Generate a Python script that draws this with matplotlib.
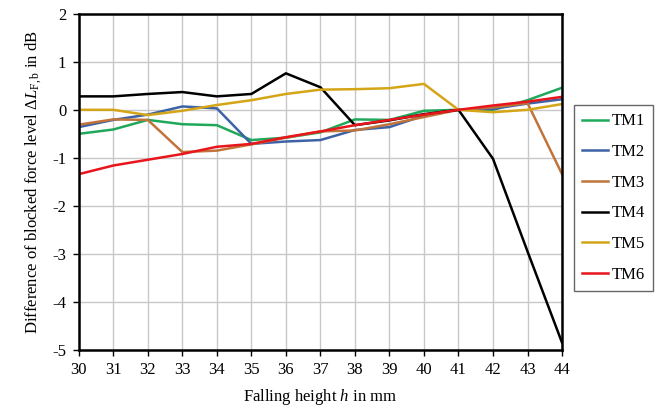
import numpy as np
import matplotlib
matplotlib.use("Agg")
import matplotlib.pyplot as plt

plt.rcParams['font.family'] = ['Liberation Serif', 'DejaVu Serif']
plt.rcParams['mathtext.fontset'] = 'custom'
plt.rcParams['mathtext.rm'] = 'Liberation Serif'
plt.rcParams['mathtext.it'] = 'Liberation Serif:italic'
plt.rcParams['axes.unicode_minus'] = False

# falling heights in mm
heights = np.arange(30, 45)

tm1 = [-0.50, -0.41, -0.21, -0.30, -0.32, -0.63, -0.58, -0.47, -0.20, -0.21, -0.02, 0.00, 0.00, 0.20, 0.46]
tm2 = [-0.36, -0.21, -0.10, 0.07, 0.03, -0.71, -0.66, -0.63, -0.42, -0.36, -0.12, 0.00, 0.02, 0.13, 0.22]
tm3 = [-0.31, -0.20, -0.21, -0.88, -0.85, -0.72, -0.58, -0.45, -0.43, -0.30, -0.15, 0.00, 0.05, 0.14, -1.34]
tm4 = [0.28, 0.28, 0.33, 0.37, 0.28, 0.33, 0.76, 0.47, -0.32, -0.22, -0.09, 0.00, -1.02, -2.95, -4.85]
tm5 = [0.00, 0.00, -0.11, -0.02, 0.10, 0.20, 0.33, 0.42, 0.43, 0.45, 0.54, 0.00, -0.05, 0.00, 0.12]
tm6 = [-1.34, -1.16, -1.04, -0.92, -0.77, -0.71, -0.57, -0.45, -0.32, -0.21, -0.10, 0.00, 0.09, 0.17, 0.27]

series = [("TM1", tm1, "#1fa85a"), ("TM2", tm2, "#3d63a6"),
          ("TM3", tm3, "#c0743a"), ("TM4", tm4, "#000000"),
          ("TM5", tm5, "#d4a517"), ("TM6", tm6, "#e8161c")]

fig = plt.figure(figsize=(6.62, 4.18), dpi=100)
ax = fig.add_axes([0.119, 0.163, 0.73, 0.804])

for name, vals, col in series:
    ax.plot(heights, vals, color=col, lw=1.8, label=name)

ax.set_xlim(30, 44)
ax.set_ylim(-5, 2)
ax.set_xticks(heights)
ax.set_yticks(range(-5, 3))
ax.grid(True, color="#c8c8c8", lw=1.0)
ax.set_axisbelow(True)
for s in ax.spines.values():
    s.set_linewidth(1.8)
    s.set_color("black")
ax.tick_params(labelsize=12, length=4, width=1, color="black", pad=5)

ax.set_xlabel(r"Falling height $h$ in mm", fontsize=12, labelpad=6)
ax.set_ylabel(r"Difference of blocked force level $\Delta L_{\mathrm{F,b}}$ in dB", fontsize=12, labelpad=6)

ax.legend(loc="upper left", bbox_to_anchor=(574 / 662, 1 - 105 / 418), bbox_transform=fig.transFigure,
          fontsize=12, frameon=True, fancybox=False, edgecolor="#404040", handlelength=1.55,
          labelspacing=0.88, borderpad=0.5, handletextpad=0.2, borderaxespad=0)

fig.savefig("out.png", dpi=100)
